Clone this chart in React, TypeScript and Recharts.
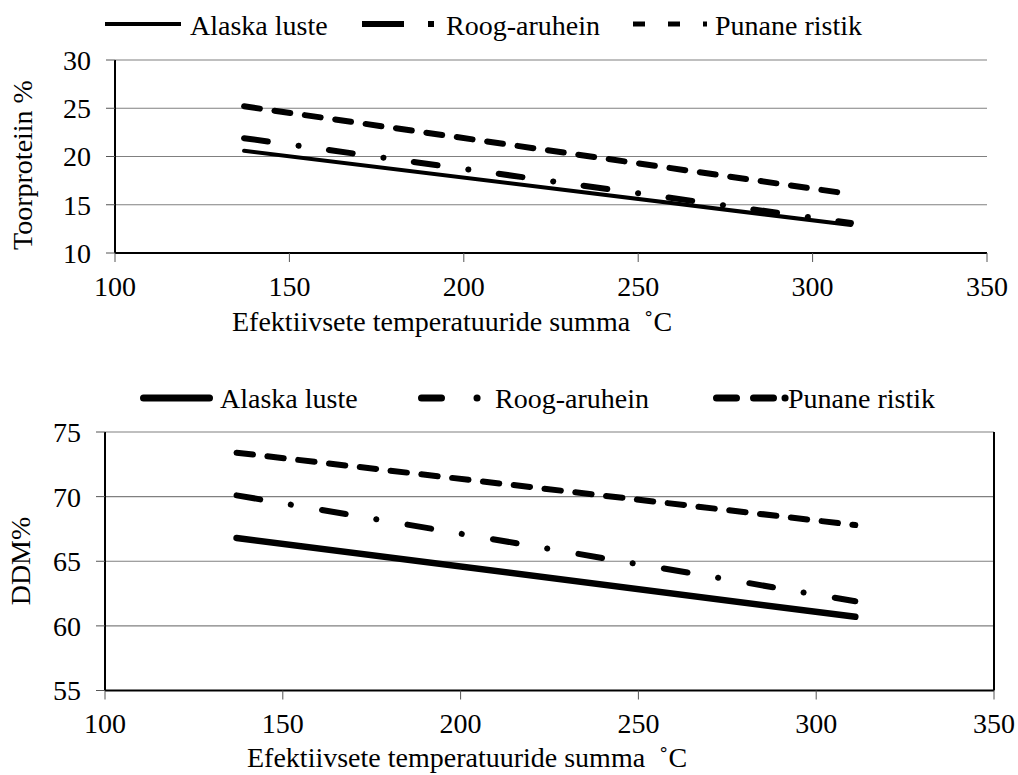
import { LineChart, Line, XAxis, YAxis, CartesianGrid, ReferenceLine } from 'recharts';

const tempSum = [137, 311];
const seriesNames = ['Alaska luste', 'Roog-aruhein', 'Punane ristik'];

// crude protein %
const alaskaCP = [20.6, 12.9];
const roogCP = [21.9, 13.1];
const punaneCP = [25.2, 16.1];

// DDM %
const alaskaDDM = [66.8, 60.7];
const roogDDM = [70.1, 61.9];
const punaneDDM = [73.4, 67.8];

const xTicks = [100, 150, 200, 250, 300, 350];
const cpTicks = [10, 15, 20, 25, 30];
const ddmTicks = [55, 60, 65, 70, 75];

const FONT = 'Liberation Serif, Times New Roman, serif';

const cpData = tempSum.map((x, i) => ({ x, alaska: alaskaCP[i], roog: roogCP[i], punane: punaneCP[i] }));
const ddmData = tempSum.map((x, i) => ({ x, alaska: alaskaDDM[i], roog: roogDDM[i], punane: punaneDDM[i] }));

const tickStyle = { fill: '#000', fontSize: 28, fontFamily: FONT };
const xTitle = 'Efektiivsete temperatuuride summa \u00A0\u02DAC';

export default function App() {
    return (
        <div style={{ position: 'absolute', left: 0, top: 0, width: 1018, height: 775, background: '#fff', fontFamily: FONT }}>
            {/* top chart */}
            <div style={{ position: 'absolute', left: 0, top: 0 }}>
                <LineChart width={1018} height={340} data={cpData} margin={{ top: 60, right: 31, bottom: 0, left: 0 }}
                    style={{ fontFamily: FONT }}>
                    <CartesianGrid horizontal vertical={false} stroke="#808080" strokeWidth={1.2} />
                    <XAxis dataKey="x" type="number" domain={[100, 350]} ticks={xTicks} height={87}
                        tick={tickStyle} tickSize={9} tickMargin={14}
                        axisLine={{ stroke: '#000', strokeWidth: 2 }} tickLine={{ stroke: '#555' }} />
                    <YAxis type="number" domain={[10, 30]} ticks={cpTicks} width={115}
                        tick={tickStyle} tickSize={9} tickMargin={15}
                        axisLine={{ stroke: '#000', strokeWidth: 2 }} tickLine={{ stroke: '#555' }} />
                    <Line dataKey="alaska" name={seriesNames[0]} type="linear" stroke="#000" strokeWidth={4}
                        dot={false} isAnimationActive={false} strokeLinecap="round" />
                    <Line dataKey="roog" name={seriesNames[1]} type="linear" stroke="#000" strokeWidth={6}
                        strokeDasharray="24 31 0.1 30.6" strokeLinecap="round" dot={false} isAnimationActive={false} />
                    <Line dataKey="punane" name={seriesNames[2]} type="linear" stroke="#000" strokeWidth={6}
                        strokeDasharray="16 14.7" strokeLinecap="round" dot={false} isAnimationActive={false} />
                </LineChart>
            </div>

            {/* bottom chart */}
            <div style={{ position: 'absolute', left: 0, top: 360 }}>
                <LineChart width={1018} height={415} data={ddmData} margin={{ top: 72, right: 24, bottom: 0, left: 0 }}
                    style={{ fontFamily: FONT }}>
                    <CartesianGrid horizontal vertical={false} stroke="#808080" strokeWidth={1.2} />
                    <XAxis dataKey="x" type="number" domain={[100, 350]} ticks={xTicks} height={84.5}
                        tick={tickStyle} tickSize={9} tickMargin={14}
                        axisLine={{ stroke: '#000', strokeWidth: 2 }} tickLine={{ stroke: '#555' }} />
                    <YAxis type="number" domain={[55, 75]} ticks={ddmTicks} width={105}
                        tick={tickStyle} tickSize={9} tickMargin={15}
                        axisLine={{ stroke: '#000', strokeWidth: 2 }} tickLine={{ stroke: '#555' }} />
                    <ReferenceLine x={350} stroke="#000" strokeWidth={2} />
                    <Line dataKey="alaska" name={seriesNames[0]} type="linear" stroke="#000" strokeWidth={6.5}
                        dot={false} isAnimationActive={false} strokeLinecap="round" />
                    <Line dataKey="roog" name={seriesNames[1]} type="linear" stroke="#000" strokeWidth={6}
                        strokeDasharray="24 31 0.1 31.6" strokeLinecap="round" dot={false} isAnimationActive={false} />
                    <Line dataKey="punane" name={seriesNames[2]} type="linear" stroke="#000" strokeWidth={6}
                        strokeDasharray="16.5 14.5" strokeLinecap="round" dot={false} isAnimationActive={false} />
                </LineChart>
            </div>

            {/* legends and axis titles */}
            <svg width={1018} height={775} style={{ position: 'absolute', left: 0, top: 0, pointerEvents: 'none' }}>
                <g fontSize={28} fontFamily={FONT} fill="#000">
                    {/* top legend */}
                    <line x1={105} x2={181} y1={24} y2={24} stroke="#000" strokeWidth={4} />
                    <text x={190} y={35}>{seriesNames[0]}</text>
                    <line x1={362} x2={440} y1={24} y2={24} stroke="#000" strokeWidth={6} strokeDasharray="42 24 6 100" />
                    <text x={446} y={35}>{seriesNames[1]}</text>
                    <line x1={633} x2={707} y1={24} y2={24} stroke="#000" strokeWidth={5} strokeDasharray="12 23" />
                    <text x={715} y={35}>{seriesNames[2]}</text>

                    {/* bottom legend */}
                    <line x1={143.5} x2={209.5} y1={398} y2={398} stroke="#000" strokeWidth={7} strokeLinecap="round" />
                    <text x={220} y={408}>{seriesNames[0]}</text>
                    <line x1={421.5} x2={477.1} y1={398} y2={398} stroke="#000" strokeWidth={7} strokeLinecap="round" strokeDasharray="20 35.5 0.1 100" />
                    <text x={495} y={408}>{seriesNames[1]}</text>
                    <line x1={716.5} x2={785.1} y1={398} y2={398} stroke="#000" strokeWidth={7} strokeLinecap="round" strokeDasharray="20 17 20 11.5 0.1 100" />
                    <text x={788} y={408}>{seriesNames[2]}</text>

                    {/* axis titles */}
                    <text transform="translate(32,165) rotate(-90)" textAnchor="middle">Toorproteiin %</text>
                    <text x={232} y={331}>{xTitle}</text>
                    <text transform="translate(30,561) rotate(-90)" textAnchor="middle">DDM%</text>
                    <text x={247} y={767}>{xTitle}</text>
                </g>
            </svg>
        </div>
    );
}
